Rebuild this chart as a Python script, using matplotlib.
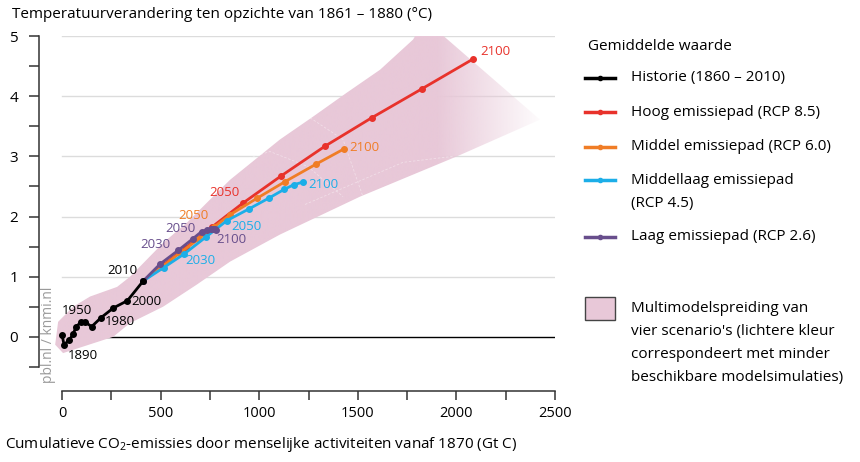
import numpy as np
import matplotlib.pyplot as plt
from matplotlib.patches import Polygon, Rectangle
from matplotlib.lines import Line2D

plt.rcParams['font.family'] = ['Open Sans', 'DejaVu Sans']
plt.rcParams['mathtext.fontset'] = 'custom'
plt.rcParams['mathtext.rm'] = 'Open Sans'
plt.rcParams['mathtext.it'] = 'Open Sans:italic'

# cumulatieve emissies (Gt C) en temperatuur (°C)
hist_x = [0, 10, 37, 57, 71, 95, 115, 150, 198, 260, 331, 412]
hist_y = [0.03, -0.13, -0.05, 0.05, 0.17, 0.24, 0.25, 0.17, 0.32, 0.48, 0.60, 0.93]
hist_label_idx = [1, 5, 8, 10, 11]
hist_label_txt = ['1890', '1950', '1980', '2000', '2010']

years = [2010, 2020, 2030, 2040, 2050, 2060, 2070, 2080, 2090, 2100]
rcp85_x = [412, 512, 627, 762, 916, 1109, 1334, 1570, 1824, 2086]
rcp85_y = [0.93, 1.19, 1.48, 1.83, 2.22, 2.67, 3.17, 3.64, 4.12, 4.62]
rcp60_x = [412, 505, 600, 690, 770, 852, 987, 1131, 1288, 1428]
rcp60_y = [0.93, 1.16, 1.40, 1.62, 1.82, 2.03, 2.30, 2.58, 2.87, 3.12]
rcp45_x = [412, 515, 620, 730, 835, 950, 1051, 1126, 1176, 1220]
rcp45_y = [0.93, 1.15, 1.38, 1.66, 1.93, 2.13, 2.31, 2.45, 2.53, 2.57]
rcp26_x = [412, 497, 590, 663, 708, 735, 755, 768, 776, 781]
rcp26_y = [0.93, 1.21, 1.44, 1.63, 1.75, 1.78, 1.79, 1.79, 1.79, 1.78]

# multimodelspreiding (omtrek)
band_x = [-35, -20, 56, 142, 279, 345, 512, 634, 750, 852, 1105, 1273, 1445, 1613,
          1780, 1800, 1917, 2424, 2003, 1511, 1105, 852, 684, 512, 345, 259, 5]
band_y = [-0.13, 0.25, 0.50, 0.67, 0.83, 1.00, 1.56, 1.90, 2.28, 2.61, 3.28, 3.66, 4.06, 4.44,
          4.94, 5.05, 5.05, 3.61, 3.00, 2.33, 1.70, 1.25, 0.87, 0.50, 0.23, 0.00, -0.27]
# binnencontouren in de spreiding (lichte stippellijnen)
inner1_x = [583, 1055, 1247, 1425]
inner1_y = [2.61, 3.08, 2.83, 2.33]
inner2_x = [1232, 1729, 1983]
inner2_y = [2.20, 2.90, 3.00]
inner3_x = [1258, 1425, 1526]
inner3_y = [3.64, 3.28, 2.33]

c_hist = '#000000'
c85 = '#e8322b'
c60 = '#f07d26'
c45 = '#1caee8'
c26 = '#684e8c'
c_band = '#e8c8d8'

fig = plt.figure(figsize=(8.6, 4.62), dpi=100)
ax = fig.add_axes([39 / 860, 1 - 391 / 462, 516 / 860, 355 / 462])

for yv in [1, 2, 3, 4, 5]:
    ax.plot([0, 2500], [yv, yv], color='#dcdcdc', lw=1, zorder=0)
ax.plot([0, 2500], [0, 0], color='black', lw=1, zorder=0)

band = Polygon(np.column_stack([band_x, band_y]), closed=True, facecolor='none', edgecolor='none')
ax.add_patch(band)
gx = np.linspace(-117, 2500, 800)
img = np.zeros((1, len(gx), 4))
img[..., :3] = plt.matplotlib.colors.to_rgb(c_band)
img[..., 3] = np.clip((2460 - gx) / (2460 - 1900), 0, 1)
im = ax.imshow(img, extent=[-117, 2500, -0.9, 5.0], aspect='auto', origin='lower',
               zorder=1, interpolation='bilinear')
im.set_clip_path(band)
for ix, iy in [(inner1_x, inner1_y), (inner2_x, inner2_y), (inner3_x, inner3_y)]:
    ax.plot(ix, iy, color='white', lw=0.6, ls=(0, (3, 2)), alpha=0.4, zorder=1.5)


def pts(v):
    return v * 72 / 100


def label(xs, ys, i, txt, dx, dy, ha, color):
    ax.annotate(txt, (xs[i], ys[i]), xytext=(pts(dx), pts(dy)), textcoords='offset points',
                ha=ha, va='center', color=color, fontsize=9.5, zorder=6)


series = [(rcp85_x, rcp85_y, c85), (rcp60_x, rcp60_y, c60),
          (rcp45_x, rcp45_y, c45), (rcp26_x, rcp26_y, c26)]
for xs, ys, c in series:
    ax.plot(xs, ys, color=c, lw=2, marker='o', ms=4, zorder=3)
ax.plot(hist_x, hist_y, color=c_hist, lw=2, marker='o', ms=4, zorder=4)

hist_offsets = [(4, -11, 'left'), (-4, 12, 'center'), (4, -4, 'left'), (4, -1, 'left'), (-6, 10, 'right')]
for i, t, (dx, dy, ha) in zip(hist_label_idx, hist_label_txt, hist_offsets):
    label(hist_x, hist_y, i, t, dx, dy, ha, c_hist)

label(rcp85_x, rcp85_y, years.index(2050), '2050', -3, 11, 'right', c85)
label(rcp85_x, rcp85_y, years.index(2100), '2100', 7, 7, 'left', c85)
label(rcp60_x, rcp60_y, years.index(2050), '2050', -5, 12, 'right', c60)
label(rcp60_x, rcp60_y, years.index(2100), '2100', 6, 2, 'left', c60)
label(rcp45_x, rcp45_y, years.index(2030), '2030', 1, -7, 'left', c45)
label(rcp45_x, rcp45_y, years.index(2050), '2050', 5, -6, 'left', c45)
label(rcp45_x, rcp45_y, years.index(2100), '2100', 6, -2, 'left', c45)
label(rcp26_x, rcp26_y, years.index(2030), '2030', -8, 6, 'right', c26)
label(rcp26_x, rcp26_y, years.index(2050), '2050', -6, 3, 'right', c26)
label(rcp26_x, rcp26_y, years.index(2100), '2100', 0, -10, 'left', c26)

ax.set_xlim(-117, 2500)
ax.set_ylim(-0.9, 5.0)
for s in ['top', 'right']:
    ax.spines[s].set_visible(False)
ax.spines['left'].set_bounds(-0.5, 5)
ax.spines['bottom'].set_bounds(0, 2500)
for s in ['left', 'bottom']:
    ax.spines[s].set_color('#333333')
    ax.spines[s].set_linewidth(1.1)
ax.set_yticks(np.arange(-0.5, 5.01, 0.5))
ax.set_yticklabels(['' if v % 1 else f'{int(v)}' for v in np.arange(-0.5, 5.01, 0.5)])
ax.set_xticks(np.arange(0, 2501, 250))
ax.set_xticklabels(['' if v % 500 else f'{int(v)}' for v in np.arange(0, 2501, 250)])
ax.tick_params(axis='y', length=7, width=1.1, color='#333333', pad=8, labelsize=11)
ax.tick_params(axis='x', length=6.5, width=1.1, color='#333333', pad=4, labelsize=10.5)
ax.set_facecolor('none')

fig.text(12 / 860, 1 - 14 / 462, 'Temperatuurverandering ten opzichte van 1861 – 1880 (°C)',
         fontsize=11, va='center', ha='left')
fig.text(5 / 860, 1 - 445 / 462,
         'Cumulatieve CO$_2$-emissies door menselijke activiteiten vanaf 1870 (Gt C)',
         fontsize=11, va='center', ha='left')
fig.text(49 / 860, 1 - 383 / 462, 'pbl.nl / knmi.nl', rotation=90, color='#9a9a9a',
         fontsize=10, ha='center', va='bottom')

# legenda
lax = fig.add_axes([0, 0, 1, 1])
lax.set_xlim(0, 860)
lax.set_ylim(462, 0)
lax.axis('off')
lax.text(588, 47, 'Gemiddelde waarde', fontsize=11, va='center')
legend_items = [
    (c_hist, ['Historie (1860 – 2010)'], 78),
    (c85, ['Hoog emissiepad (RCP 8.5)'], 112),
    (c60, ['Middel emissiepad (RCP 6.0)'], 147),
    (c45, ['Middellaag emissiepad', '(RCP 4.5)'], 180),
    (c26, ['Laag emissiepad (RCP 2.6)'], 237),
]
for c, lines, yy in legend_items:
    lax.add_line(Line2D([585, 615], [yy, yy], color=c, lw=2.5))
    lax.add_line(Line2D([600], [yy], color=c, marker='o', ms=3))
    for k, t in enumerate(lines):
        lax.text(631, yy + 23 * k, t, fontsize=11, va='center')

lax.add_patch(Rectangle((585, 297), 30, 23, facecolor=c_band, edgecolor='#444444', lw=1))
for k, t in enumerate(['Multimodelspreiding van', "vier scenario's (lichtere kleur",
                       'correspondeert met minder', 'beschikbare modelsimulaties)']):
    lax.text(631, 308 + 23 * k, t, fontsize=11, va='center')

fig.savefig('out.png', dpi=100)
